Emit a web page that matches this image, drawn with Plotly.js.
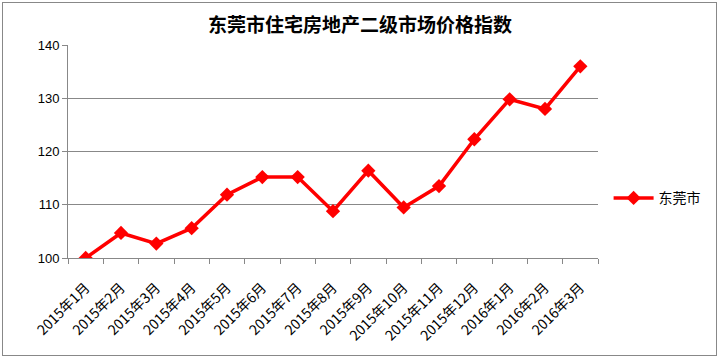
<!DOCTYPE html>
<html>
<head>
<meta charset="utf-8">
<script src="https://cdn.plot.ly/plotly-3.0.1.min.js"></script>
<style>
html,body{margin:0;padding:0;background:#fff;}
#chart{width:720px;height:359px;position:relative;}
#frame{position:absolute;left:2px;top:2px;width:713px;height:352px;border:1px solid #888;pointer-events:none;}
</style>
</head>
<body>
<div style="position:relative;width:720px;height:359px;">
<div id="chart"></div>
<div id="frame"></div>
</div>
<script>
const months = ["2015年1月","2015年2月","2015年3月","2015年4月","2015年5月","2015年6月","2015年7月","2015年8月","2015年9月","2015年10月","2015年11月","2015年12月","2016年1月","2016年2月","2016年3月"];
const dongguan = [100.0,104.7,102.7,105.6,111.9,115.2,115.2,108.8,116.4,109.5,113.5,122.3,129.8,128.0,136.0];
const seriesName = "东莞市";
const chartTitle = "东莞市住宅房地产二级市场价格指数";

const font = '"Noto Sans CJK SC", "Liberation Sans", sans-serif';
Plotly.newPlot('chart', [{
  x: months,
  y: dongguan,
  name: seriesName,
  type: 'scatter',
  mode: 'lines+markers',
  line: {color: '#ff0000', width: 3.5},
  marker: {symbol: 'diamond', size: 11, color: '#ff0000'}
}], {
  width: 720, height: 359,
  margin: {l: 68, r: 122, t: 45, b: 101},
  paper_bgcolor: '#fff', plot_bgcolor: '#fff',
  title: {text: '<b>' + chartTitle + '</b>', x: 0.5, xanchor: 'center', y: 0.93, yanchor: 'middle',
          font: {family: font, size: 19, color: '#000'}},
  showlegend: true,
  legend: {x: 1.02, xanchor: 'left', y: 0.28, yanchor: 'middle', font: {family: font, size: 14, color: '#000'},
           bgcolor: 'rgba(0,0,0,0)', itemwidth: 40},
  xaxis: {type: 'category', range: [-0.5, 14.5], tickson: 'boundaries', ticks: 'outside', ticklen: 5,
          tickcolor: '#888', showline: true, linecolor: '#888', linewidth: 1, showgrid: false,
          ticklabelstandoff: 15,
          tickangle: -45, tickfont: {family: font, size: 14, color: '#000'}, fixedrange: true},
  yaxis: {range: [100, 140], dtick: 10, ticks: 'outside', ticklen: 5, tickcolor: '#888',
          showline: true, linecolor: '#888', linewidth: 1, showgrid: true, gridcolor: '#888', gridwidth: 1,
          zeroline: false, tickfont: {family: '"Liberation Sans", sans-serif', size: 13, color: '#000'}, fixedrange: true}
}, {displayModeBar: false, staticPlot: true});
</script>
</body>
</html>
